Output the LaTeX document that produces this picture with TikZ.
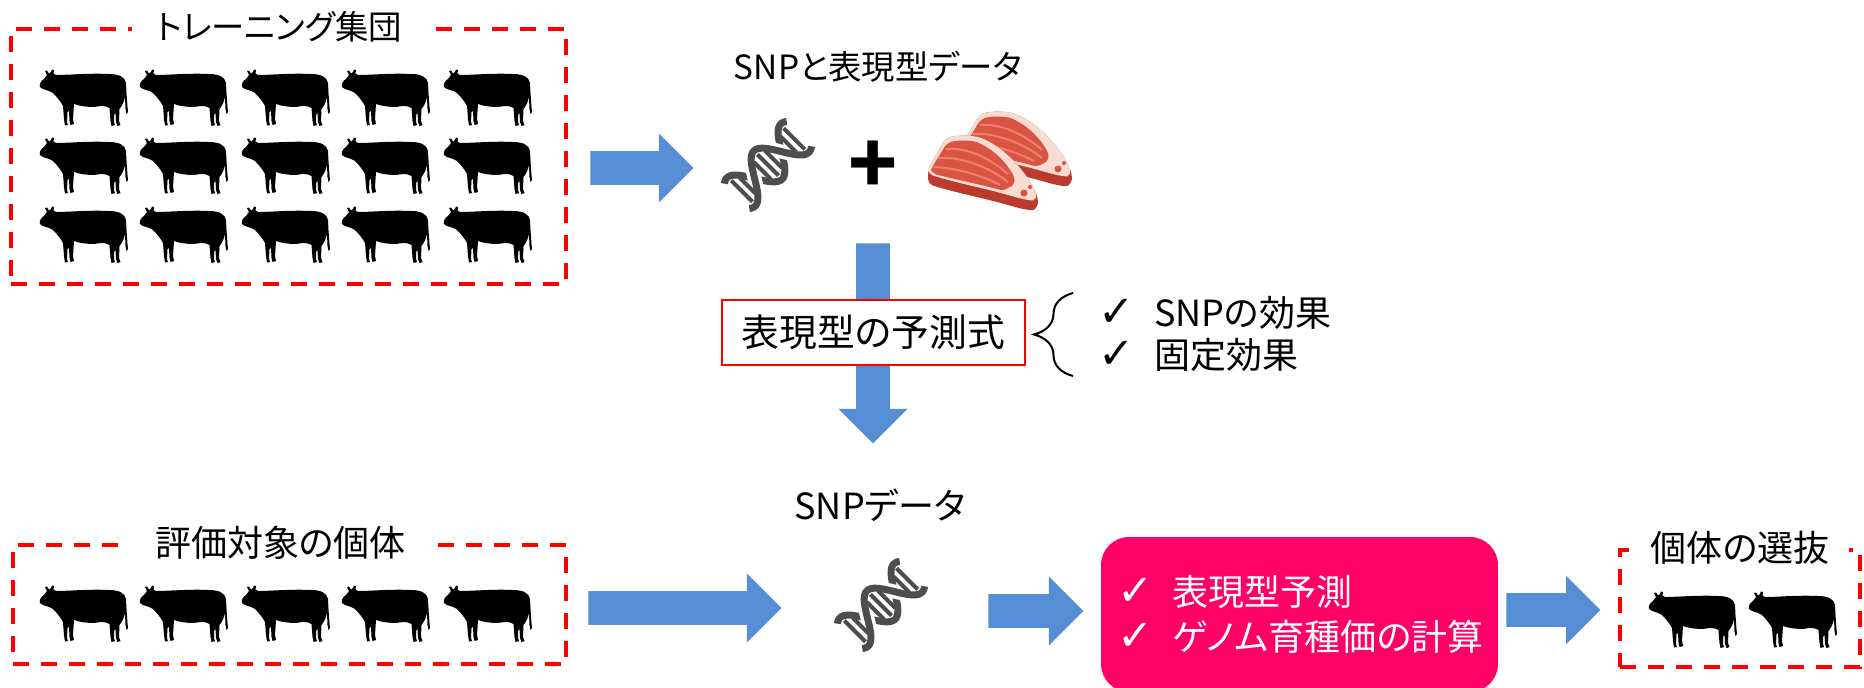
\documentclass[tikz,border=0pt]{standalone}
\usepackage{fontspec}
\setmainfont{Noto Sans CJK JP}[RawFeature=+palt]
\newfontfamily\symfont{DejaVu Sans}
\usetikzlibrary{shapes.arrows, decorations.pathreplacing, positioning}
\definecolor{ArrowBlue}{HTML}{558ED5}
\definecolor{DashRed}{HTML}{FF0000}
\definecolor{Hot}{HTML}{FF0066}
\definecolor{Helix}{HTML}{4D4D4D}
\definecolor{Lean}{HTML}{DA5443}
\definecolor{LeanLight}{HTML}{EC806D}
\definecolor{LeanSide}{HTML}{BA3A2E}
\definecolor{Fat}{HTML}{F8DCD2}
\newcommand{\chk}{\makebox[1.55em][l]{\symfont\scalebox{1.2}{✓}}}

\tikzset{
    % cow silhouette, origin at top left, about 89 x 57 units
    cow/.pic={
        \fill (1,18) .. controls (0,15) and (2,12) .. (5,10) -- (8,6) -- (6,2) -- (8,1.5)
            -- (10,4.5) -- (12,3) -- (13,0.5) -- (15,1) -- (14.5,4.5) -- (17,6)
            .. controls (30,6) and (50,4) .. (70,5) .. controls (80,5) and (86,8) .. (87,14)
            -- (87.5,24) -- (88.5,38) -- (89,43) -- (87.5,45) -- (86.5,40) -- (86,28)
            .. controls (85,33) and (83,37) .. (80.5,40) -- (80,52) -- (81.5,56) -- (78.5,57)
            -- (77,53) -- (76.5,44) -- (75,46) -- (75,53) -- (76,56) -- (72.5,57)
            -- (71.5,52) -- (70.5,39) .. controls (66,36) and (60,37) .. (55,38)
            .. controls (48,38) and (40,37) .. (35,35) -- (34,50) -- (35,55) -- (31.5,56)
            -- (30.5,52) -- (30,42) -- (28.5,43) -- (28,53) -- (29,56) -- (26,56.5)
            -- (25,50) -- (24,37) .. controls (22,33) and (18,28) .. (14,24)
            .. controls (11,22) and (7,21) .. (4,20) -- cycle;
    },
    % double helix, origin at its centre
    dna/.pic={
        \begin{scope}[rotate=45, line width=0.14cm, Helix]
            \draw[domain=-44:44, samples=70, smooth] plot (\x, {20*cos(\x*180/38)});
            \draw[domain=-44:44, samples=70, smooth,
                preaction={draw, white, line width=0.28cm}] plot (\x, {-20*cos(\x*180/38)});
            \foreach \u in {-37,-29,-8,0,8,29,37}
                \draw[line width=0.08cm] (\u, {15*cos(\u*180/38)}) -- (\u, {-15*cos(\u*180/38)});
        \end{scope}
    },
    % one slice of meat, origin at top left
    steak/.pic={
        \begin{scope}[rounded corners=0.1cm]
        \fill[LeanSide] (0,57) -- (17,27) .. controls (28,23) and (46,23) .. (58,28)
            .. controls (80,40) and (100,62) .. (110,86) -- (110,95)
            .. controls (104,99) and (94,97) .. (80,93) .. controls (55,86) and (25,80) .. (0,72) -- cycle;
        \fill[Fat] (0,57) -- (17,27) .. controls (28,23) and (46,23) .. (58,28)
            .. controls (80,40) and (100,62) .. (110,86) .. controls (104,89) and (94,87) .. (80,83)
            .. controls (55,76) and (25,70) .. (0,62) -- cycle;
        \fill[Lean] (3,57) -- (19,31) .. controls (30,28) and (45,28) .. (55,33)
            .. controls (70,42) and (82,55) .. (88,70) .. controls (84,74) and (80,76) .. (76,79)
            .. controls (55,73) and (25,67) .. (3,61) -- cycle;
        \end{scope}
        \draw[LeanLight, line width=0.04cm] (10,46) .. controls (30,44) and (60,54) .. (80,70);
        \draw[LeanLight, line width=0.04cm] (18,37) .. controls (38,35) and (62,46) .. (80,62);
        \draw[LeanLight, line width=0.04cm] (6,55) .. controls (30,56) and (55,64) .. (72,73);
        \fill[Lean] (96,81) circle (3.5);
        \fill[Lean] (102,75) circle (2);
    },
}

\begin{document}
\begin{tikzpicture}[x=0.02cm, y=-0.02cm,
    every node/.style={font=\fontsize{20.5}{24}\selectfont},
    grpbox/.style={draw=DashRed, line width=0.08cm, dash pattern=on 0.32cm off 0.24cm},
    grptitle/.style={fill=white, inner xsep=0.5cm, inner ysep=0.05cm},
    blockarrow/.style={single arrow, fill=ArrowBlue, inner sep=0.33cm, anchor=tail,
        single arrow head extend=0.35cm, single arrow tip angle=90},
]
\clip (0,0) rectangle (1864,687);

% === Training population ===
\node[grpbox, minimum width=11.1cm, minimum height=5.1cm] (train) at (288.5,156.5) {};
\node[grptitle, font=\fontsize{19}{24}\selectfont] (traintitle) at ([xshift=-0.18cm]train.north) {トレーニング集団};
\foreach \cx in {39,139,241,341,443}
    \foreach \cy in {69,137,206}
        \pic at (\cx,\cy) {cow};

\node[blockarrow, minimum height=2.06cm] (arrtrain) at (590,168) {};

% === SNP + phenotype ===
\node[font=\fontsize{19}{24}\selectfont] (snppheno) at (878,67) {SNPと表現型データ};
\pic at (768,165) {dna};
\node[font=\fontsize{46}{46}\selectfont\bfseries] (plus) at (873,167) {+};
\pic at (962,88) {steak};
\pic at (928,112) {steak};

% === Prediction model ===
\node[blockarrow, minimum height=4cm, rotate=-90] (arrdown) at (873,243) {};
\node[draw=DashRed, line width=0.04cm, fill=white, minimum width=6.06cm,
    minimum height=1.3cm, font=\fontsize{21.5}{24}\selectfont] (model) at (873.5,332.5) {表現型の予測式};

\coordinate (bracebot) at (1073,376);
\coordinate (bracetop) at (1073,293);
\draw[decorate, decoration={brace, amplitude=0.78cm}, line width=0.04cm] (bracebot) -- (bracetop);
\node[anchor=west, align=left, inner sep=0] (effects) at (1098,334)
    {\chk SNPの効果\\\chk 固定効果};

% === Candidates ===
\node[grpbox, minimum width=11.06cm, minimum height=2.38cm] (cand) at (289.5,604.5) {};
\node[grptitle] (candtitle) at ([xshift=-0.18cm]cand.north) {評価対象の個体};
\foreach \cx in {39,139,241,341,443}
    \pic at (\cx,585) {cow};

\node[blockarrow, minimum height=3.86cm] (arrcand) at (588,608) {};

\node (snponly) at (880,505) {SNPデータ};
\pic at (881,605) {dna};

\node[blockarrow, minimum height=1.9cm] (arrsnp) at (988,611) {};

% === Prediction result ===
\node[fill=Hot, text=white, rounded corners=0.56cm, align=left, text width=7.3cm,
    minimum height=3.1cm, inner xsep=0.32cm] (predict) at (1299.5,614.5)
    {\chk 表現型予測\\[1.5pt]\chk ゲノム育種価の計算};

\node[blockarrow, minimum height=1.88cm] (arrpick) at (1506,610) {};

% === Selection ===
\node[grpbox, minimum width=4.8cm, minimum height=2.34cm] (pick) at (1740,608.5) {};
\node[grptitle, inner xsep=0.4cm] (picktitle) at (pick.north) {個体の選抜};
\pic at (1648,591) {cow};
\pic at (1748,591) {cow};

\end{tikzpicture}
\end{document}
